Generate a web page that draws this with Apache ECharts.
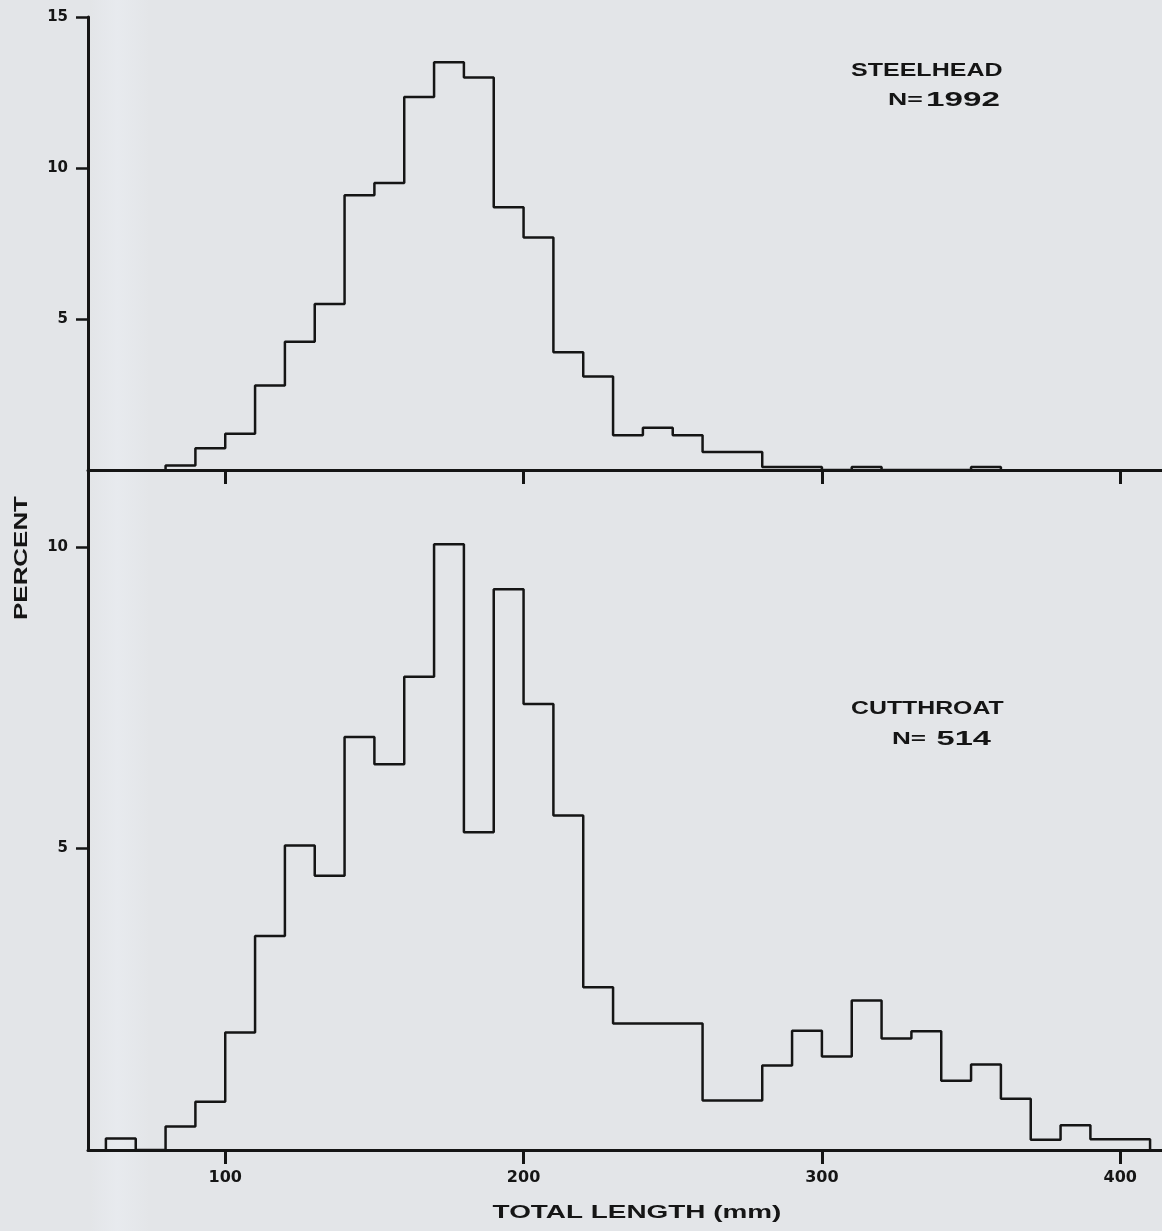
<!DOCTYPE html>
<html><head><meta charset="utf-8">
<script src="https://cdn.jsdelivr.net/npm/echarts@6/dist/echarts.min.js"></script>
<style>html,body{margin:0;padding:0;background:#e3e5e8}#c{width:1162px;height:1231px}</style>
</head><body><div id="c"></div>
<script>
// ---- data (percent of fish per 10 mm length class, lower edge of class) ----
const binWidth = 10;
const steelheadBins = [80,90,100,110,120,130,140,150,160,170,180,190,200,210,220,230,240,250,260,270,280,290,300,310,320,330,340,350];
const steelheadPct  = [0.15,0.72,1.2,2.8,4.25,5.5,9.1,9.5,12.35,13.5,13.0,8.7,7.7,3.9,3.1,1.15,1.4,1.15,0.6,0.6,0.1,0.1,0,0.1,0,0,0,0.1];
const cutthroatBins = [60,70,80,90,100,110,120,130,140,150,160,170,180,190,200,210,220,230,240,250,260,270,280,290,300,310,320,330,340,350,360,370,380,390,400];
const cutthroatPct  = [0.19,0,0.39,0.8,1.95,3.55,5.05,4.55,6.85,6.4,7.85,10.05,5.27,9.3,7.4,5.55,2.7,2.1,2.1,2.1,0.82,0.82,1.4,1.98,1.55,2.48,1.85,1.97,1.15,1.42,0.85,0.17,0.41,0.18,0.18];
const xTickValues = [100,200,300,400];
const topYTicks = [5,10,15];
const bottomYTicks = [5,10];
const xTitle = 'TOTAL LENGTH (mm)';
const yTitle = 'PERCENT';

function stepPoints(bins, vals){
  const pts = [[bins[0], 0]];
  bins.forEach((b, i) => pts.push([b, vals[i]]));
  pts.push([bins[bins.length - 1] + binWidth, 0]);
  return pts;
}

const ink = '#151515';
const lblFont = 'DejaVu Sans';
const axisCommon = {
  axisLine: { show: true, lineStyle: { color: ink, width: 3 } },
  splitLine: { show: false }
};

const chart = echarts.init(document.getElementById('c'), null, { renderer: 'canvas' });
chart.setOption({
  backgroundColor: '#e3e5e8',
  animation: false,
  grid: [
    { left: 88, right: 0, top: 17, height: 453 },
    { left: 88, right: 0, top: 470, height: 680 }
  ],
  xAxis: [
    Object.assign({ gridIndex: 0, type: 'value', min: 54, max: 414,
      axisTick: { show: true, customValues: xTickValues, length: 14, lineStyle: { color: ink, width: 3 } },
      axisLabel: { show: false } }, axisCommon),
    Object.assign({ gridIndex: 1, type: 'value', min: 54, max: 414,
      axisTick: { show: true, customValues: xTickValues, length: 14, lineStyle: { color: ink, width: 3 } },
      axisLabel: { show: true, customValues: xTickValues, margin: 20, color: ink, fontFamily: lblFont, fontWeight: 'bold', fontSize: 16 } }, axisCommon)
  ],
  yAxis: [
    Object.assign({ gridIndex: 0, type: 'value', min: 0, max: 15,
      axisTick: { show: true, customValues: topYTicks, length: 12, lineStyle: { color: ink, width: 2.5 } },
      axisLabel: { show: true, customValues: topYTicks, margin: 20, color: ink, fontFamily: lblFont, fontWeight: 'bold', fontSize: 15 } }, axisCommon),
    Object.assign({ gridIndex: 1, type: 'value', min: 0, max: 11.28,
      axisTick: { show: true, customValues: bottomYTicks, length: 12, lineStyle: { color: ink, width: 2.5 } },
      axisLabel: { show: true, customValues: bottomYTicks, margin: 20, color: ink, fontFamily: lblFont, fontWeight: 'bold', fontSize: 15 } }, axisCommon)
  ],
  series: [
    { name: 'STEELHEAD', type: 'line', xAxisIndex: 0, yAxisIndex: 0, step: 'end', showSymbol: false, symbol: 'none',
      lineStyle: { color: ink, width: 2.5 }, data: stepPoints(steelheadBins, steelheadPct) },
    { name: 'CUTTHROAT', type: 'line', xAxisIndex: 1, yAxisIndex: 1, step: 'end', showSymbol: false, symbol: 'none',
      lineStyle: { color: ink, width: 2.5 }, data: stepPoints(cutthroatBins, cutthroatPct) }
  ],
  graphic: [
    { type: 'rect', z: -10, silent: true, shape: { x: 90, y: 0, width: 60, height: 1231 },
      style: { fill: { type: 'linear', x: 0, y: 0, x2: 1, y2: 0, colorStops: [
        { offset: 0, color: 'rgba(240,244,250,0)' }, { offset: 0.45, color: 'rgba(240,244,250,0.35)' }, { offset: 1, color: 'rgba(240,244,250,0)' } ] } } },
    { type: 'text', x: 851, y: 62, scaleX: 1.39, style: { text: 'STEELHEAD', fill: ink, font: 'bold 18px "Liberation Sans"', align: 'left', verticalAlign: 'top' } },
    { type: 'text', x: 888, y: 90, scaleX: 1.66, style: { text: '{n|N=}{d|1992}', fill: ink, align: 'left', verticalAlign: 'top',
        rich: { n: { font: 'bold 16px "Liberation Sans"', fill: ink, padding: [2, 2, 0, 0] }, d: { font: 'bold 20px "Liberation Sans"', fill: ink } } } },
    { type: 'text', x: 851, y: 700, scaleX: 1.38, style: { text: 'CUTTHROAT', fill: ink, font: 'bold 18px "Liberation Sans"', align: 'left', verticalAlign: 'top' } },
    { type: 'text', x: 892, y: 729, scaleX: 1.63, style: { text: '{n|N= }{d|514}', fill: ink, align: 'left', verticalAlign: 'top',
        rich: { n: { font: 'bold 16px "Liberation Sans"', fill: ink, padding: [2, 2, 0, 0] }, d: { font: 'bold 20px "Liberation Sans"', fill: ink } } } },
    { type: 'text', x: 22, y: 558, rotation: Math.PI / 2, scaleX: 1.44, style: { text: yTitle, fill: ink, font: 'bold 18px "Liberation Sans"', align: 'center', verticalAlign: 'middle' } },
    { type: 'text', x: 637, y: 1213, scaleX: 1.55, style: { text: xTitle, fill: ink, font: 'bold 18px "Liberation Sans"', align: 'center', verticalAlign: 'middle' } }
  ]
});
</script></body></html>
